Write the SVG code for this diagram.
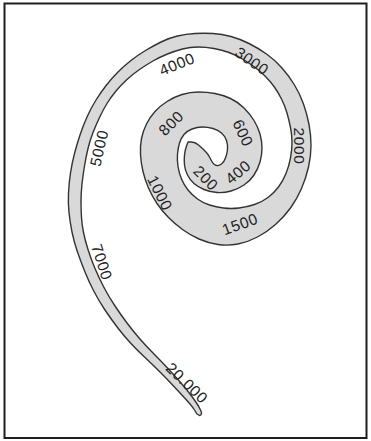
<svg xmlns="http://www.w3.org/2000/svg" width="371" height="441" viewBox="0 0 371 441">
<style>
.frame{fill:#fff;stroke:#1e1e1e;stroke-width:2}
.band{fill:#d9d9d9;stroke:#333;stroke-width:1.4;stroke-linejoin:round}
.lbl{font-family:"Liberation Sans",Arial,sans-serif;font-size:15.5px;letter-spacing:0.6px;fill:#222;text-anchor:middle}
</style>
<rect class="frame" x="4.5" y="3.5" width="362" height="434.5"/>
<g id="spiral">
<path class="band" d="M188,142 L191.5,142 Q195,142 198.5,145 Q202,148 205,151 Q208,154 209.5,157 Q211,160 212.5,162.5 Q214,165 216.5,165.5 Q219,166 221.5,164 Q224,162 225.5,158 Q227,154 227.5,149.5 Q228,145 226.5,140.5 Q225,136 221.5,133 Q218,130 213,128.5 Q208,127 202.5,127 Q197,127 192,129 Q187,131 184,134.5 Q181,138 179.5,143 Q178,148 177.5,154 Q177,160 178,166.5 Q179,173 181.5,179 Q184,185 188,190 Q192,195 197.5,199 Q203,203 209.5,205 Q216,207 223.5,208 Q231,209 239,208 Q247,207 254.5,204.5 Q262,202 268,197.5 Q274,193 278.5,187 Q283,181 286,173.5 Q289,166 290.5,158 Q292,150 292,142.5 Q292,135 290.5,127.5 Q289,120 287,113 Q285,106 281.5,99 Q278,92 274,86.5 Q270,81 265,76 Q260,71 254.5,67 Q249,63 242.5,59 Q236,55 229,52.5 Q222,50 214,48.5 Q206,47 198,47 Q190,47 182.5,49 Q175,51 167.5,54 Q160,57 153,61 Q146,65 139.5,69.5 Q133,74 127,79.5 Q121,85 116,91 Q111,97 107,103.5 Q103,110 99.5,117.5 Q96,125 93,132.5 Q90,140 88,148.5 Q86,157 84.5,166 Q83,175 82,184 Q81,193 81,201.5 Q81,210 81.5,217.5 Q82,225 83.5,232.5 Q85,240 88,249.5 Q91,259 95,268.5 Q99,278 104,287.5 Q109,297 115,306 Q121,315 127,323 Q133,331 139.5,338.5 Q146,346 153,353 Q160,360 167,367.5 Q174,375 181,383 Q188,391 193,398 Q198,405 199.5,408 L201,411 Q202.5,415 199.5,415.5 L197,414 L194.5,410 Q192,406 186.5,400 Q181,394 174,386.5 Q167,379 159.5,371.5 Q152,364 144.5,357 Q137,350 130.5,343 Q124,336 117.5,327.5 Q111,319 105,310 Q99,301 94,291.5 Q89,282 85,272 Q81,262 77.5,252 Q74,242 72,232 Q70,222 69,212.5 Q68,203 68.5,193 Q69,183 70.5,173 Q72,163 74.5,153.5 Q77,144 80,135 Q83,126 87,117 Q91,108 96,100 Q101,92 106.5,85 Q112,78 118,72 Q124,66 131,60.5 Q138,55 145.5,50.5 Q153,46 161,42 Q169,38 177.5,36 Q186,34 195,33.5 Q204,33 213,33.5 Q222,34 231,36.5 Q240,39 249,43.5 Q258,48 266.5,54 Q275,60 282,68 Q289,76 294.5,85 Q300,94 303.5,104 Q307,114 309,124.5 Q311,135 311,145.5 Q311,156 308.5,167 Q306,178 301.5,188.5 Q297,199 290.5,208 Q284,217 275.5,224.5 Q267,232 257.5,237 Q248,242 238,244 Q228,246 218,244.5 Q208,243 199,239 Q190,235 182.5,229.5 Q175,224 168.5,217.5 Q162,211 157,203.5 Q152,196 148.5,188 Q145,180 143,171.5 Q141,163 140.5,154.5 Q140,146 141.5,138.5 Q143,131 146.5,124 Q150,117 155,111.5 Q160,106 167,101.5 Q174,97 182,94.5 Q190,92 198.5,92 Q207,92 215,93.5 Q223,95 230.5,98.5 Q238,102 244,108 Q250,114 254,120.5 Q258,127 260,134 Q262,141 262,148 Q262,155 260,162 Q258,169 254,175 Q250,181 244,185 Q238,189 231,191 Q224,193 217,192.5 Q210,192 204,189.5 Q198,187 194,183.5 Q190,180 187.5,175 Q185,170 184.5,165 Q184,160 184.5,155 Q185,150 186.5,146 L188,142 Z"/>
</g>
<g id="labels">
<text class="lbl" transform="translate(206,178) rotate(45)" y="5.5">200</text>
<text class="lbl" transform="translate(238,172) rotate(-40)" y="5.5">400</text>
<text class="lbl" transform="translate(243,133) rotate(65)" y="5.5">600</text>
<text class="lbl" transform="translate(171,123) rotate(-45)" y="5.5">800</text>
<text class="lbl" transform="translate(160,193) rotate(63)" y="5.5">1000</text>
<text class="lbl" transform="translate(240,224) rotate(-20)" y="5.5">1500</text>
<text class="lbl" transform="translate(299,146) rotate(90)" y="5.5">2000</text>
<text class="lbl" transform="translate(252,61) rotate(35)" y="5.5">3000</text>
<text class="lbl" transform="translate(177,64) rotate(-22)" y="5.5">4000</text>
<text class="lbl" transform="translate(99,148) rotate(-77)" y="5.5">5000</text>
<text class="lbl" transform="translate(102,262) rotate(72)" y="5.5">7000</text>
<text class="lbl" transform="translate(187,383) rotate(44)" y="5.5">20.000</text>
</g>
</svg>
